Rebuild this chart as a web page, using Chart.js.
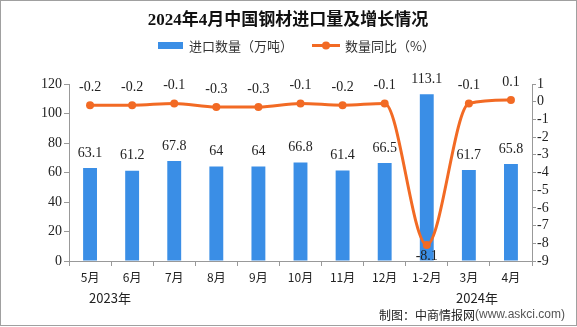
<!DOCTYPE html>
<html>
<head>
<meta charset="utf-8">
<script src="https://cdn.jsdelivr.net/npm/chart.js@4"></script>
<style>
  html, body { margin: 0; padding: 0; background: #fff; }
  #wrap { position: relative; width: 577px; height: 327px; }
</style>
</head>
<body>
<div id="wrap"><canvas id="chart"></canvas></div>
<script>
// months (May 2023 - Apr 2024)
const months = ['5月', '6月', '7月', '8月', '9月', '10月', '11月', '12月', '1-2月', '3月', '4月'];
// imports, 10k tonnes
const importQty = [63.1, 61.2, 67.8, 64, 64, 66.8, 61.4, 66.5, 113.1, 61.7, 65.8];
// year-on-year change, %
const yoyChange = [-0.2, -0.2, -0.1, -0.3, -0.3, -0.1, -0.2, -0.1, -8.1, -0.1, 0.1];

const titleText = '2024年4月中国钢材进口量及增长情况';
const seriesNames = ['进口数量（万吨）', '数量同比（%）'];
const yearLabels = ['2023年', '2024年'];
const sourceText = ['制图：中商情报网', '(www.askci.com)'];

const BLUE = '#3a8ee6';
const ORANGE = '#f26a24';
const AXIS = '#999999';
const NUM_FONT = "'Liberation Serif', serif";
const CJK_FONT = "'Noto Sans CJK SC', sans-serif";

// titles, legend, value labels and footer text
const decorations = {
    id: 'decorations',
    afterDraw(chart) {
        const ctx = chart.ctx;
        ctx.save();

        // frame
        ctx.strokeStyle = '#a0a0a0';
        ctx.lineWidth = 1;
        ctx.strokeRect(0.5, 0.5, chart.width - 1, chart.height - 2);

        // title
        ctx.fillStyle = '#111';
        ctx.textAlign = 'center';
        ctx.textBaseline = 'middle';
        ctx.font = "bold 17px 'Liberation Serif', 'Noto Sans CJK SC', serif";
        ctx.fillText(titleText, 288, 21);

        // legend
        ctx.font = '13px ' + CJK_FONT;
        ctx.textAlign = 'left';
        ctx.fillStyle = BLUE;
        ctx.fillRect(158, 42, 25, 7);
        ctx.fillStyle = '#333';
        ctx.fillText(seriesNames[0], 189, 46);
        ctx.strokeStyle = ORANGE;
        ctx.lineWidth = 3;
        ctx.beginPath();
        ctx.moveTo(312, 45.5);
        ctx.lineTo(340, 45.5);
        ctx.stroke();
        ctx.fillStyle = ORANGE;
        ctx.beginPath();
        ctx.arc(326, 45.5, 4, 0, Math.PI * 2);
        ctx.fill();
        ctx.fillStyle = '#333';
        ctx.fillText(seriesNames[1], 345, 46);

        // value labels
        ctx.textAlign = 'center';
        ctx.font = '14px ' + NUM_FONT;
        ctx.fillStyle = '#222';
        const bars = chart.getDatasetMeta(1).data;
        bars.forEach((bar, i) => {
            ctx.fillText(String(importQty[i]), bar.x, bar.y - 15);
        });
        const pts = chart.getDatasetMeta(0).data;
        pts.forEach((pt, i) => {
            const v = yoyChange[i];
            const dy = v < -5 ? 11 : -18;
            ctx.fillText(String(v), pt.x, pt.y + dy);
        });

        // year labels under the axis
        ctx.font = '13px ' + CJK_FONT;
        ctx.fillStyle = '#222';
        ctx.fillText(yearLabels[0], 110, 298);
        ctx.fillText(yearLabels[1], 477, 298);

        // source line
        ctx.textAlign = 'left';
        ctx.font = '12px ' + CJK_FONT;
        const w1 = ctx.measureText(sourceText[0]).width;
        ctx.font = "12px 'Liberation Sans', sans-serif";
        const w2 = ctx.measureText(sourceText[1]).width;
        const sx = 565 - w1 - w2;
        ctx.font = '12px ' + CJK_FONT;
        ctx.fillStyle = '#222';
        ctx.fillText(sourceText[0], sx, 315);
        ctx.font = "12px 'Liberation Sans', sans-serif";
        ctx.fillStyle = '#555';
        ctx.fillText(sourceText[1], sx + w1, 315);

        ctx.restore();
    }
};

new Chart(document.getElementById('chart'), {
    data: {
        labels: months,
        datasets: [
            {
                type: 'line',
                label: seriesNames[1],
                data: yoyChange,
                yAxisID: 'y1',
                borderColor: ORANGE,
                backgroundColor: ORANGE,
                borderWidth: 3,
                pointRadius: 4,
                pointBackgroundColor: ORANGE,
                pointBorderWidth: 0,
                cubicInterpolationMode: 'monotone',
                order: 0
            },
            {
                type: 'bar',
                label: seriesNames[0],
                data: importQty,
                yAxisID: 'y',
                backgroundColor: BLUE,
                barPercentage: 0.33,
                categoryPercentage: 1,
                order: 1
            }
        ]
    },
    options: {
        responsive: true,
        maintainAspectRatio: false,
        animation: false,
        layout: { padding: { top: 84, left: 0, right: 0, bottom: 0 } },
        plugins: {
            legend: { display: false },
            title: { display: false },
            tooltip: { enabled: false }
        },
        scales: {
            x: {
                offset: true,
                grid: { offset: true, drawOnChartArea: false, tickLength: 5, color: AXIS },
                border: { color: AXIS },
                ticks: { font: { family: CJK_FONT, size: 12 }, color: '#222', padding: 4, autoSkip: false, maxRotation: 0 },
                afterFit(scale) { scale.height = 66; }
            },
            y: {
                position: 'left',
                min: 0,
                max: 120,
                ticks: { stepSize: 20, font: { family: NUM_FONT, size: 14 }, color: '#222', padding: 2, autoSkip: false },
                grid: { drawOnChartArea: false, tickLength: 5, color: AXIS },
                border: { color: AXIS },
                afterFit(scale) { scale.width = 69; }
            },
            y1: {
                position: 'right',
                min: -9,
                max: 1,
                ticks: { stepSize: 1, font: { family: NUM_FONT, size: 14 }, color: '#222', padding: 1, autoSkip: false },
                grid: { drawOnChartArea: false, tickLength: 4, color: AXIS },
                border: { color: AXIS },
                afterFit(scale) { scale.width = 45; }
            }
        }
    },
    plugins: [decorations]
});
</script>
</body>
</html>
